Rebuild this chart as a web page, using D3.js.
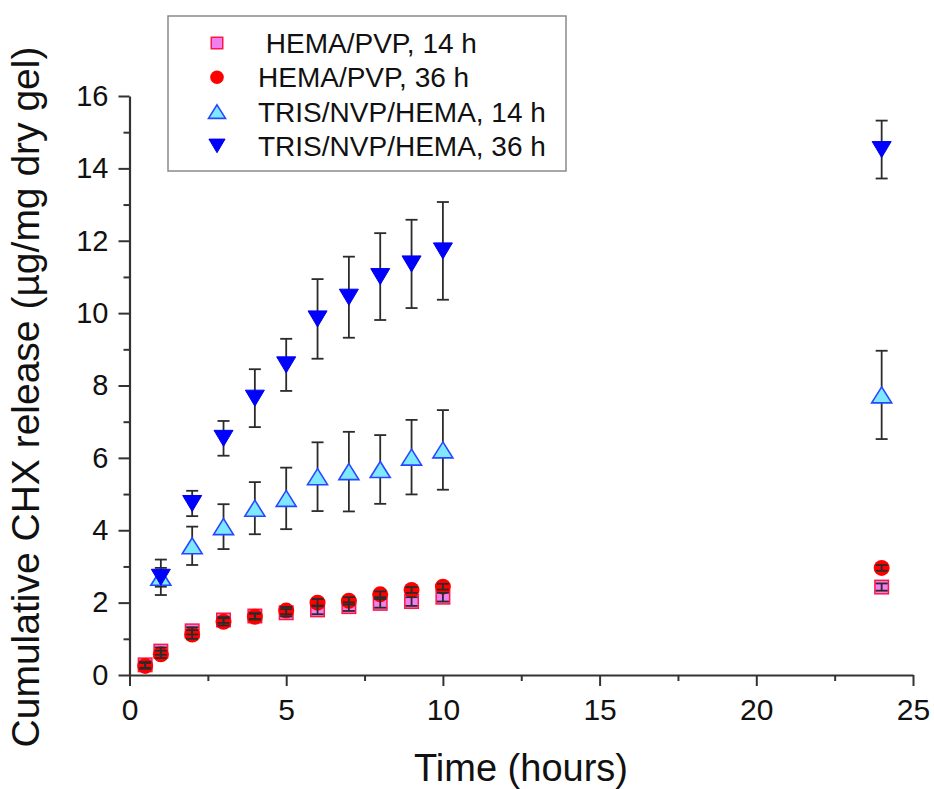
<!DOCTYPE html>
<html>
<head>
<meta charset="utf-8">
<script src="https://cdn.jsdelivr.net/npm/d3@7"></script>
<style>
  body { margin: 0; background: #fff; }
  svg { display: block; font-family: "Liberation Sans", Arial, sans-serif; }
</style>
</head>
<body>
<div id="chart"></div>
<script>
// data
const hemaTimes = [0.5, 1, 2, 3, 4, 5, 6, 7, 8, 9, 10, 24];
const trisTimes = [1, 2, 3, 4, 5, 6, 7, 8, 9, 10, 24];

const hema14 = [0.28, 0.66, 1.22, 1.52, 1.63, 1.72, 1.80, 1.89, 1.98, 2.03, 2.15, 2.43];
const hema14Err = [0.08, 0.1, 0.1, 0.08, 0.08, 0.1, 0.12, 0.12, 0.12, 0.12, 0.12, 0.1];
const hema36 = [0.25, 0.57, 1.12, 1.47, 1.61, 1.78, 2.0, 2.05, 2.23, 2.35, 2.44, 2.96];
const hema36Err = [0.08, 0.1, 0.12, 0.1, 0.08, 0.1, 0.1, 0.1, 0.08, 0.08, 0.08, 0.08];

const tris14 = [2.70, 3.57, 4.10, 4.61, 4.88, 5.48, 5.62, 5.68, 6.02, 6.22, 7.74];
const tris14Err = [0.49, 0.53, 0.62, 0.72, 0.85, 0.95, 1.1, 0.95, 1.03, 1.1, 1.22];
const tris36 = [2.70, 4.74, 6.54, 7.65, 8.57, 9.84, 10.44, 11.01, 11.36, 11.72, 14.52];
const tris36Err = [0.26, 0.35, 0.48, 0.8, 0.72, 1.1, 1.12, 1.2, 1.22, 1.35, 0.8];

const xTicks = [0, 5, 10, 15, 20, 25];
const yTicks = [0, 2, 4, 6, 8, 10, 12, 14, 16];
const legendLabels = [' HEMA/PVP, 14 h', 'HEMA/PVP, 36 h', 'TRIS/NVP/HEMA, 14 h', 'TRIS/NVP/HEMA, 36 h'];

const width = 934;
const height = 789;

const svg = d3.select('#chart')
    .append('svg')
    .attr('width', width)
    .attr('height', height);

const x = d3.scaleLinear().domain([0, 25]).range([129.5, 913]);
const y = d3.scaleLinear().domain([0, 16]).range([675, 96]);

// shapes
const triUp = (w, h) => `M0,${-h / 2}L${w / 2},${h / 2}L${-w / 2},${h / 2}Z`;
const triDown = (w, h) => `M0,${h / 2}L${w / 2},${-h / 2}L${-w / 2},${-h / 2}Z`;

const series = [
    { times: hemaTimes, vals: hema14, err: hema14Err, kind: 'square' },
    { times: hemaTimes, vals: hema36, err: hema36Err, kind: 'circle' },
    { times: trisTimes, vals: tris14, err: tris14Err, kind: 'up' },
    { times: trisTimes, vals: tris36, err: tris36Err, kind: 'down' }
];
const pts = s => s.times.map((t, i) => ({ t: t, v: s.vals[i], e: s.err[i] }));

function drawMarker(g, kind, big) {
    const k = big ? 1 : 0.85;
    if (kind === 'square') {
        const s = 13.5 * k;
        g.append('rect')
            .attr('x', -s / 2).attr('y', -s / 2)
            .attr('width', s).attr('height', s)
            .attr('fill', '#f27ff0')
            .attr('stroke', '#ff1744')
            .attr('stroke-width', 1.5);
    } else if (kind === 'circle') {
        g.append('circle')
            .attr('r', 8 * k)
            .attr('fill', '#ff0000');
    } else if (kind === 'up') {
        g.append('path')
            .attr('d', triUp(20 * k, 16 * k))
            .attr('fill', '#7fe8ff')
            .attr('stroke', '#2647ff')
            .attr('stroke-width', 1.6);
    } else {
        g.append('path')
            .attr('d', triDown(19 * k, 16 * k))
            .attr('fill', '#0000ff')
            .attr('stroke', '#0000ee')
            .attr('stroke-width', 1);
    }
}

function drawMarkers(s) {
    svg.append('g').selectAll('g')
        .data(pts(s))
        .join('g')
        .attr('transform', d => `translate(${x(d.t)},${y(d.v)})`)
        .each(function() { drawMarker(d3.select(this), s.kind, true); });
}

function drawErrors(s) {
    const g = svg.append('g')
        .attr('stroke', '#2b2b2b')
        .attr('stroke-width', 1.8)
        .selectAll('g')
        .data(pts(s))
        .join('g');
    g.append('line')
        .attr('x1', d => x(d.t)).attr('x2', d => x(d.t))
        .attr('y1', d => y(d.v + d.e)).attr('y2', d => y(d.v - d.e));
    g.append('line')
        .attr('x1', d => x(d.t) - 6).attr('x2', d => x(d.t) + 6)
        .attr('y1', d => y(d.v + d.e)).attr('y2', d => y(d.v + d.e));
    g.append('line')
        .attr('x1', d => x(d.t) - 6).attr('x2', d => x(d.t) + 6)
        .attr('y1', d => y(d.v - d.e)).attr('y2', d => y(d.v - d.e));
}

// axes
const xMinor = d3.range(2.5, 25, 5);
const yMinor = d3.range(1, 16, 2);

svg.append('g')
    .attr('transform', `translate(0,${y(0)})`)
    .call(d3.axisBottom(x).tickValues(xMinor).tickSize(6).tickFormat(''))
    .call(g => g.select('.domain').remove())
    .call(g => g.selectAll('line').attr('stroke', '#333').attr('stroke-width', 2));

svg.append('g')
    .attr('transform', `translate(${x(0)},0)`)
    .call(d3.axisLeft(y).tickValues(yMinor).tickSize(6).tickFormat(''))
    .call(g => g.select('.domain').remove())
    .call(g => g.selectAll('line').attr('stroke', '#333').attr('stroke-width', 2));

const xAxis = svg.append('g')
    .attr('transform', `translate(0,${y(0)})`)
    .call(d3.axisBottom(x).tickValues(xTicks).tickSize(11).tickSizeOuter(0).tickPadding(13));

const yAxis = svg.append('g')
    .attr('transform', `translate(${x(0)},0)`)
    .call(d3.axisLeft(y).tickValues(yTicks).tickSize(11).tickSizeOuter(0).tickPadding(10));

[xAxis, yAxis].forEach(a => {
    a.select('.domain').attr('stroke', '#333').attr('stroke-width', 2.2);
    a.selectAll('.tick line').attr('stroke', '#333').attr('stroke-width', 2);
    a.selectAll('.tick text')
        .attr('fill', '#111')
        .style('font-family', '"Liberation Sans", Arial, sans-serif');
});
xAxis.selectAll('.tick text').style('font-size', '30px');
yAxis.selectAll('.tick text').style('font-size', '29px');

// points: hema markers below their error bars, triangles above
drawMarkers(series[0]);
drawMarkers(series[1]);
series.forEach(drawErrors);
drawMarkers(series[2]);
drawMarkers(series[3]);

// axis titles
svg.append('text')
    .attr('x', 521)
    .attr('y', 781)
    .attr('text-anchor', 'middle')
    .style('font-size', '38px')
    .attr('fill', '#111')
    .text('Time (hours)');

svg.append('text')
    .attr('transform', 'translate(39,397) rotate(-90)')
    .attr('text-anchor', 'middle')
    .style('font-size', '39px')
    .attr('fill', '#111')
    .text('Cumulative CHX release (\u00b5g/mg dry gel)');

// legend
const legend = svg.append('g');
legend.append('rect')
    .attr('x', 168).attr('y', 16)
    .attr('width', 398).attr('height', 155)
    .attr('fill', '#fff')
    .attr('stroke', '#8a8a8a')
    .attr('stroke-width', 1.5);

const rows = legend.selectAll('.row')
    .data(legendLabels)
    .join('g')
    .attr('class', 'row')
    .attr('transform', (d, i) => `translate(217,${43 + i * 34.3})`);

rows.each(function(d, i) { drawMarker(d3.select(this), series[i].kind, false); });

rows.append('text')
    .attr('x', 41)
    .attr('y', 10)
    .style('white-space', 'pre')
    .style('font-size', '28px')
    .attr('fill', '#111')
    .text(d => d);
</script>
</body>
</html>
